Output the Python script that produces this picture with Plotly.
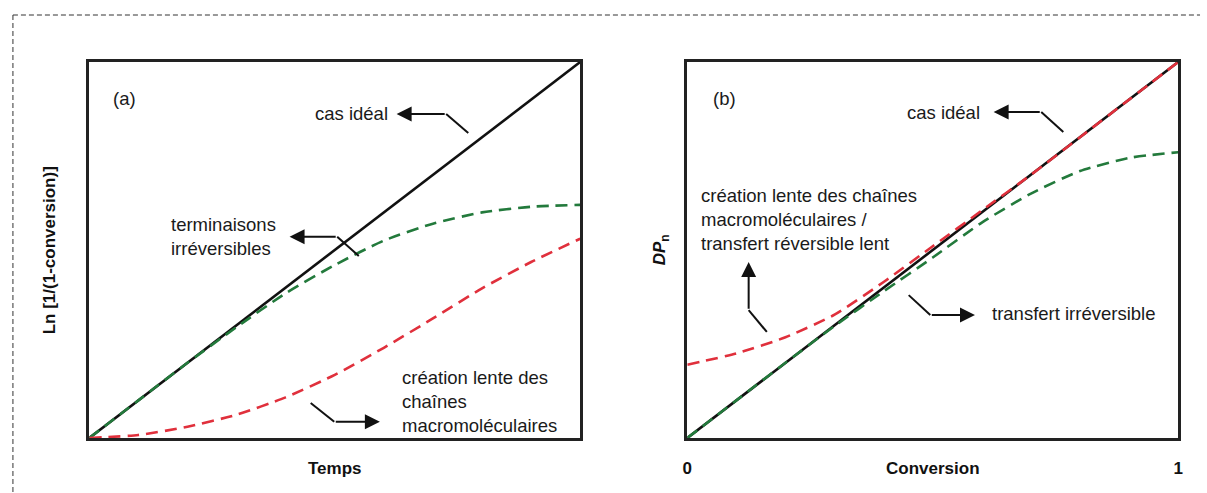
import plotly.graph_objects as go

# Shared abscissa (fraction of the axis range) for every curve
x_pts = [0.0, 0.1, 0.2, 0.3, 0.4, 0.5, 0.6, 0.7, 0.8, 0.9, 1.0]

# (a) Ln[1/(1-conversion)] versus time
ideal_a = [0.0, 0.1, 0.2, 0.3, 0.4, 0.5, 0.6, 0.7, 0.8, 0.9, 1.0]
term_irrev_a = [0.0, 0.1, 0.2, 0.295, 0.385, 0.46, 0.525, 0.57, 0.60, 0.615, 0.62]
slow_init_a = [0.0, 0.008, 0.03, 0.062, 0.108, 0.168, 0.24, 0.318, 0.398, 0.468, 0.53]

# (b) DPn versus conversion
ideal_b = [0.0, 0.1, 0.2, 0.3, 0.4, 0.5, 0.6, 0.7, 0.8, 0.9, 1.0]
slow_init_b = [0.195, 0.225, 0.268, 0.328, 0.415, 0.51, 0.605, 0.70, 0.80, 0.90, 1.0]
transfer_irrev_b = [0.0, 0.1, 0.2, 0.298, 0.39, 0.48, 0.573, 0.65, 0.71, 0.745, 0.76]

conv_ticks = [0, 1]
conv_ticktext = ["<b>0</b>", "<b>1</b>"]

FONT = "Liberation Sans, Arial, Helvetica, sans-serif"
INK = "#111111"
GREEN = "#237a3c"
RED = "#e0303c"
DASH = "12px,7px"

W, H = 1207, 493

fig = go.Figure()


def add_curves(xa, ya, ideal, green, red):
    fig.add_trace(go.Scatter(x=x_pts, y=ideal, mode="lines", xaxis=xa, yaxis=ya,
                             line=dict(color=INK, width=2.6), hoverinfo="skip"))
    fig.add_trace(go.Scatter(x=x_pts, y=green, mode="lines", xaxis=xa, yaxis=ya,
                             line=dict(color=GREEN, width=2.6, dash=DASH,
                                       shape="spline", smoothing=0.6),
                             hoverinfo="skip"))
    fig.add_trace(go.Scatter(x=x_pts, y=red, mode="lines", xaxis=xa, yaxis=ya,
                             line=dict(color=RED, width=2.6, dash=DASH,
                                       shape="spline", smoothing=0.6),
                             hoverinfo="skip"))


add_curves("x", "y", ideal_a, term_irrev_a, slow_init_a)
add_curves("x2", "y2", ideal_b, transfer_irrev_b, slow_init_b)

axis_common = dict(range=[0, 1], showgrid=False, zeroline=False, showline=True,
                   mirror=True, linecolor="#222222", linewidth=2.6, ticks="",
                   fixedrange=True)

y_dom = [1 - 438 / H, 1 - 62 / H]
fig.update_layout(
    width=W, height=H,
    margin=dict(l=0, r=0, t=0, b=0),
    paper_bgcolor="white", plot_bgcolor="white",
    showlegend=False,
    font=dict(family=FONT, size=18, color="#1a1a1a"),
    xaxis=dict(domain=[85 / W, 580 / W], showticklabels=False, **axis_common),
    yaxis=dict(domain=y_dom, showticklabels=False, **axis_common),
    xaxis2=dict(domain=[688 / W, 1183 / W], anchor="y2", tickvals=conv_ticks,
                ticktext=conv_ticktext, ticklabelstandoff=13,
                tickfont=dict(size=17, color="#111111"), **axis_common),
    yaxis2=dict(domain=y_dom, anchor="x2", showticklabels=False, **axis_common),
)

# Dashed outer frame (top and left edges)
for x0, y0, x1, y1 in [(8, 15, W - 2, 15), (8, 15, 8, H)]:
    fig.add_shape(type="line", xref="paper", yref="paper",
                  x0=x0 / W, x1=x1 / W, y0=1 - y0 / H, y1=1 - y1 / H,
                  line=dict(color="#333333", width=1, dash="5px,3px"))

# Axis titles
titles = [
    ("x domain", "y domain", 0.5, 0, 0, -30, "<b>Temps</b>", 0),
    ("x2 domain", "y2 domain", 0.5, 0, 0, -30, "<b>Conversion</b>", 0),
    ("x domain", "y domain", 0, 0.5, -40, 0, "<b>Ln [1/(1-conversion)]</b>", -90),
    ("x2 domain", "y2 domain", 0, 0.5, -26, 0, "<b><i>DP</i></b><sub><b>n</b></sub>", -90),
]
for xr, yr, x, y, xs, ys, txt, ang in titles:
    fig.add_annotation(xref=xr, yref=yr, x=x, y=y, xshift=xs, yshift=ys, text=txt,
                       textangle=ang, showarrow=False, xanchor="center", yanchor="middle",
                       font=dict(size=17, color="#111111"))

# Panel letters and curve labels
labels = [
    ("x", "y", 0.071, 0.904, "(a)", "center"),
    ("x", "y", 0.612, 0.864, "cas idéal", "right"),
    ("x", "y", 0.162, 0.537, "terminaisons<br>irréversibles", "left"),
    ("x", "y", 0.632, 0.098, "création lente des<br>chaînes<br>macromoléculaires", "left"),
    ("x2", "y2", 0.075, 0.904, "(b)", "center"),
    ("x2", "y2", 0.600, 0.867, "cas idéal", "right"),
    ("x2", "y2", 0.024, 0.58,
     "création lente des chaînes<br>macromoléculaires /<br>transfert réversible lent", "left"),
    ("x2", "y2", 0.616, 0.332, "transfert irréversible", "left"),
]
for xr, yr, x, y, txt, anchor in labels:
    fig.add_annotation(xref=xr, yref=yr, x=x, y=y, text=txt, showarrow=False,
                       xanchor=anchor, yanchor="middle",
                       align=anchor if anchor != "center" else "center",
                       font=dict(size=18.5, color="#1a1a1a"))

# Bent pointer arrows: (start, knee, tip) in each panel's data space
pointers = [
    ("x", "y", (0.772, 0.811), (0.727, 0.862), (0.626, 0.862)),
    ("x", "y", (0.549, 0.484), (0.505, 0.535), (0.408, 0.535)),
    ("x", "y", (0.451, 0.093), (0.499, 0.043), (0.592, 0.043)),
    ("x2", "y2", (0.766, 0.814), (0.721, 0.867), (0.624, 0.867)),
    ("x2", "y2", (0.162, 0.282), (0.125, 0.340), (0.125, 0.468)),
    ("x2", "y2", (0.451, 0.380), (0.495, 0.327), (0.586, 0.327)),
]
for xr, yr, start, knee, tip in pointers:
    fig.add_shape(type="line", xref=xr, yref=yr, x0=start[0], y0=start[1],
                  x1=knee[0], y1=knee[1], line=dict(color=INK, width=2))
    fig.add_annotation(xref=xr, yref=yr, axref=xr, ayref=yr, x=tip[0], y=tip[1],
                       ax=knee[0], ay=knee[1], text="", showarrow=True,
                       arrowhead=2, arrowsize=1.5, arrowwidth=2, arrowcolor=INK,
                       standoff=0, startstandoff=0)

fig.write_html("out.html")
